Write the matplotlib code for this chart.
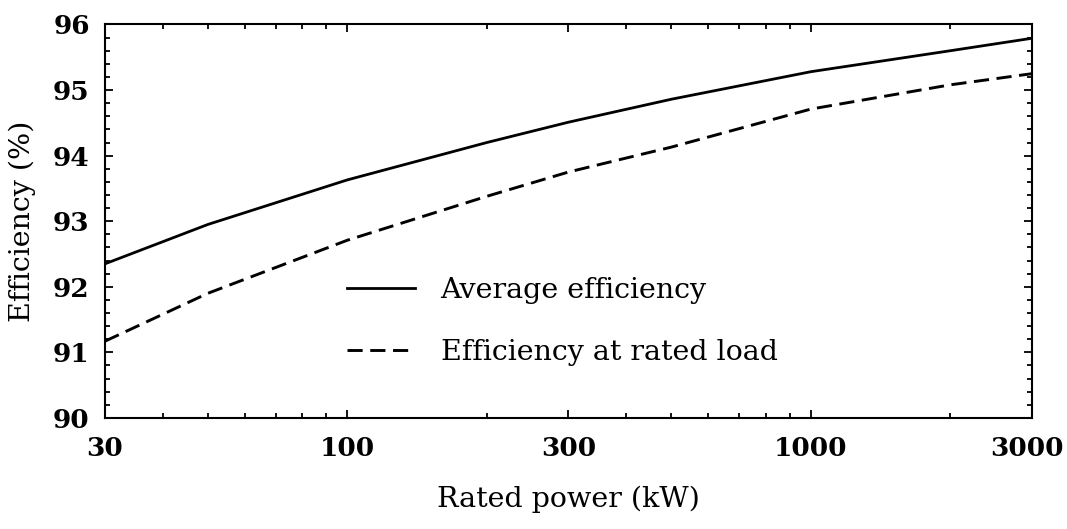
import matplotlib
matplotlib.use('Agg')
import matplotlib.pyplot as plt
from matplotlib.ticker import FixedLocator, NullFormatter, MultipleLocator
from matplotlib.transforms import ScaledTranslation

# rated power (kW) and efficiencies (%)
power = [30, 50, 100, 200, 300, 500, 1000, 2000, 3000]
avg_eff = [92.35, 92.95, 93.63, 94.2, 94.51, 94.86, 95.28, 95.6, 95.79]
rated_eff = [91.17, 91.9, 92.71, 93.38, 93.75, 94.13, 94.71, 95.08, 95.25]

xticks = [30, 100, 300, 1000, 3000]
xminor = [40, 50, 60, 70, 80, 90, 200, 400, 500, 600, 700, 800, 900, 2000]

plt.rcParams['font.family'] = 'DejaVu Serif'

fig = plt.figure(figsize=(10.67, 5.29), dpi=100)
ax = fig.add_axes([0.0984, 0.21, 0.8688, 0.7437])

ax.plot(power, avg_eff, color='black', lw=2.0, label='Average efficiency')
ax.plot(power, rated_eff, color='black', lw=2.1, linestyle=(0, (5.2, 2.6)),
        label='Efficiency at rated load')

ax.set_xscale('log')
ax.set_xlim(30, 3000)
ax.set_ylim(90, 96)
ax.xaxis.set_major_locator(FixedLocator(xticks))
ax.xaxis.set_minor_locator(FixedLocator(xminor))
ax.xaxis.set_minor_formatter(NullFormatter())
ax.set_xticklabels([str(t) for t in xticks])
ax.yaxis.set_major_locator(MultipleLocator(1))
ax.yaxis.set_minor_locator(MultipleLocator(0.2))

ax.tick_params(which='both', direction='in', top=True, right=True, width=1.3)
ax.tick_params(which='major', length=6, labelsize=19)
ax.tick_params(axis='x', which='major', pad=13)
ax.tick_params(axis='y', which='major', pad=11)
ax.tick_params(which='minor', length=3.5)
for lab in ax.get_xticklabels() + ax.get_yticklabels():
    lab.set_fontweight('bold')
for s in ax.spines.values():
    s.set_linewidth(1.5)

# pull the last x label in a little so it stays inside the figure
last = ax.xaxis.get_major_ticks()[-1].label1
last.set_transform(last.get_transform()
                   + ScaledTranslation(-4 / 72, 0, fig.dpi_scale_trans))

ax.set_xlabel('Rated power (kW)', fontsize=20.5, labelpad=18)
ax.set_ylabel('Efficiency (%)', fontsize=20.5, labelpad=12)

ax.legend(loc='center left', bbox_to_anchor=(0.233, 0.245), frameon=False,
          fontsize=20.5, handlelength=2.4, handletextpad=0.9, labelspacing=1.25)

fig.savefig('out.png', dpi=100)
